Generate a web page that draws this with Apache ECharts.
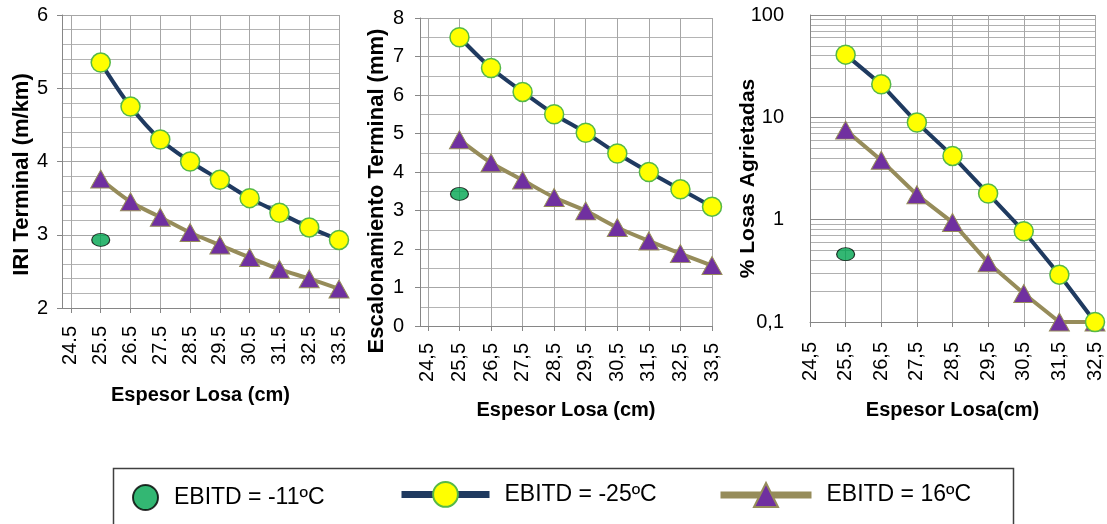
<!DOCTYPE html>
<html>
<head>
<meta charset="UTF-8">
<title>Espesor de losa - IRI, escalonamiento y losas agrietadas</title>
<script src="https://cdn.jsdelivr.net/npm/echarts@6/dist/echarts.min.js"></script>
<style>
  html, body { margin: 0; padding: 0; background: #fff; }
  #main { width: 1107px; height: 524px; }
</style>
</head>
<body>
<div id="main"></div>
<script type="text/javascript">
// espesores de losa (cm)
var espesorA = [25.5, 26.5, 27.5, 28.5, 29.5, 30.5, 31.5, 32.5, 33.5];
var espesorB = [25.5, 26.5, 27.5, 28.5, 29.5, 30.5, 31.5, 32.5];
var espesorPunto = [25.5];
var etiquetasA = [24.5, 25.5, 26.5, 27.5, 28.5, 29.5, 30.5, 31.5, 32.5, 33.5];
var etiquetasB = [24.5, 25.5, 26.5, 27.5, 28.5, 29.5, 30.5, 31.5, 32.5];

// IRI terminal (m/km)
var iriMenos25 = [5.35, 4.75, 4.3, 4.0, 3.75, 3.5, 3.3, 3.1, 2.93];
var iri16 = [3.76, 3.45, 3.24, 3.03, 2.86, 2.69, 2.53, 2.4, 2.26];
var iriMenos11 = [2.93];

// escalonamiento terminal (mm)
var escMenos25 = [7.5, 6.7, 6.08, 5.5, 5.02, 4.48, 4.0, 3.55, 3.1];
var esc16 = [4.84, 4.24, 3.79, 3.34, 2.99, 2.56, 2.21, 1.88, 1.57];
var escMenos11 = [3.43];

// % losas agrietadas (escala log)
var losasMenos25 = [41, 21, 8.9, 4.2, 1.8, 0.77, 0.29, 0.1];
var losas16 = [7.5, 3.8, 1.75, 0.94, 0.38, 0.19, 0.1, 0.1];
var losasMenos11 = [0.46];
var ticksLog = [0.1, 0.2, 0.3, 0.4, 0.5, 0.6, 0.7, 0.8, 0.9,
                1, 2, 3, 4, 5, 6, 7, 8, 9,
                10, 20, 30, 40, 50, 60, 70, 80, 90, 100];
var etiquetasLog = [0.1, 1, 10, 100];

var nombres = ['EBITD = -11ºC', 'EBITD = -25ºC', 'EBITD = 16ºC'];

var fuente = "'Liberation Sans', Arial, sans-serif";
var azul = '#1F3A60';
var oliva = '#968C5A';
var morado = '#7030A0';
var amarillo = '#FFFF00';
var bordeAmarillo = '#56B947';
var verde = '#00A550';
var rejilla = '#A6A6A6';

function pares(xs, ys) {
	return ys.map(function(v, i) {
		return [xs[i], v];
	});
}

function coma(v) {
	return String(v).replace('.', ',');
}

function ejeX(idx, min, max, ticks, gap, margen, nombre, fmt) {
	return {
		type: 'value',
		gridIndex: idx,
		min: min,
		max: max,
		name: nombre,
		nameLocation: 'middle',
		nameGap: gap,
		nameTextStyle: { fontFamily: fuente, fontSize: 20, fontWeight: 'bold', color: '#000' },
		axisLine: { show: true, onZero: false, lineStyle: { color: '#868686', width: 1 } },
		axisTick: { show: true, customValues: ticks, length: 5, lineStyle: { color: '#868686' } },
		axisLabel: { customValues: ticks, rotate: 90, margin: margen, fontFamily: fuente, fontSize: 20, color: '#000', formatter: fmt },
		splitLine: { show: true, lineStyle: { color: rejilla, width: 1 } }
	};
}

function ejeY(idx, min, max, nombre, gap, pad, margen, menores) {
	return {
		type: 'value',
		gridIndex: idx,
		min: min,
		max: max,
		interval: 1,
		name: nombre,
		nameLocation: 'middle',
		nameGap: gap,
		nameMoveOverlap: false,
		nameTextStyle: { fontFamily: fuente, fontSize: 22, fontWeight: 'bold', color: '#000', padding: pad },
		axisLine: { show: true, onZero: false, lineStyle: { color: '#868686', width: 1 } },
		axisTick: { show: true, length: 5, lineStyle: { color: '#868686' } },
		axisLabel: { margin: margen, fontFamily: fuente, fontSize: 20, color: '#000' },
		splitLine: { show: true, lineStyle: { color: rejilla, width: 1 } },
		minorTick: { show: false, splitNumber: menores },
		minorSplitLine: { show: true, lineStyle: { color: '#B4B4B4', width: 1 } }
	};
}

function serieVerde(idx, ys) {
	return {
		name: nombres[0],
		type: 'scatter',
		xAxisIndex: idx,
		yAxisIndex: idx,
		data: pares(espesorPunto, ys),
		symbol: 'circle',
		symbolSize: [18, 13],
		itemStyle: { color: verde, borderColor: '#000', borderWidth: 1 }
	};
}

function serie16(idx, xs, ys, suave) {
	return {
		name: nombres[2],
		type: 'line',
		xAxisIndex: idx,
		yAxisIndex: idx,
		data: pares(xs, ys),
		smooth: suave,
		symbol: 'triangle',
		symbolSize: [20, 18],
		lineStyle: { color: oliva, width: 4 },
		itemStyle: { color: morado, borderColor: oliva, borderWidth: 1 }
	};
}

function serie25(idx, xs, ys, suave) {
	return {
		name: nombres[1],
		type: 'line',
		xAxisIndex: idx,
		yAxisIndex: idx,
		data: pares(xs, ys),
		smooth: suave,
		symbol: 'circle',
		symbolSize: 19,
		lineStyle: { color: azul, width: 4 },
		itemStyle: { color: amarillo, borderColor: bordeAmarillo, borderWidth: 1.5 }
	};
}

var myChart = echarts.init(document.getElementById('main'), null, { renderer: 'canvas' });

var textoLeyenda = { fontFamily: fuente, fontSize: 23, color: '#000' };

// lineas de decada mas oscuras en el eje logaritmico
var coloresLog = ['#8C8C8C', '#B0B0B0', '#B0B0B0', '#B0B0B0', '#B0B0B0', '#B0B0B0', '#B0B0B0', '#B0B0B0', '#B0B0B0'];

var option = {
	animation: false,
	textStyle: { fontFamily: fuente },
	grid: [
		{ left: 62, top: 15, width: 277, height: 293 },
		{ left: 420, top: 18, width: 292, height: 308 },
		{ left: 810, top: 15, width: 285, height: 307 }
	],
	xAxis: [
		ejeX(0, 24.2, 33.5, etiquetasA, 77, 18, 'Espesor Losa (cm)', function(v) { return v.toFixed(1); }),
		ejeX(1, 24.25, 33.5, etiquetasA, 74, 17, 'Espesor Losa (cm)', coma),
		ejeX(2, 24.5, 32.5, etiquetasB, 78, 20, 'Espesor Losa(cm)', coma)
	],
	yAxis: [
		ejeY(0, 2, 6, 'IRI Terminal (m/km)', 29, [0, 26, 0, 0], 14, 5),
		ejeY(1, 0, 8, 'Escalonamiento Terminal (mm)', 32, [0, 38, 0, 0], 16, 2),
		{
			type: 'log',
			logBase: 10,
			gridIndex: 2,
			min: 0.1,
			max: 100,
			name: '% Losas Agrietadas',
			nameLocation: 'middle',
			nameGap: 51,
			nameMoveOverlap: false,
			nameTextStyle: { fontFamily: fuente, fontSize: 21, fontWeight: 'bold', color: '#000', padding: [0, 20, 0, 0] },
			axisLine: { show: true, onZero: false, lineStyle: { color: '#868686', width: 1 } },
			axisTick: { show: false, customValues: ticksLog },
			axisLabel: { customValues: etiquetasLog, margin: 26, fontFamily: fuente, fontSize: 20, color: '#000', formatter: coma },
			splitLine: { show: true, lineStyle: { color: coloresLog, width: 1 } }
		}
	],
	legend: [
		{
			data: [nombres[0]], left: 132, top: 484, padding: 0,
			itemWidth: 25, itemHeight: 25,
			textStyle: Object.assign({ padding: [0, 0, 0, 11] }, textoLeyenda)
		},
		{
			data: [nombres[1]], left: 398, top: 481, padding: 0,
			itemWidth: 88, itemHeight: 31,
			lineStyle: { width: 7 },
			textStyle: Object.assign({ padding: [0, 0, 0, 10] }, textoLeyenda)
		},
		{
			data: [nombres[2]], left: 717, top: 482, padding: 0,
			itemWidth: 91, itemHeight: 30,
			lineStyle: { width: 7 },
			textStyle: Object.assign({ padding: [0, 0, 0, 10] }, textoLeyenda)
		}
	],
	// marco de la leyenda
	graphic: [{
		type: 'rect',
		left: 111,
		top: 466,
		shape: { width: 900, height: 80 },
		style: { fill: 'none', stroke: '#404040', lineWidth: 1.5 },
		silent: true
	}],
	series: [
		serieVerde(0, iriMenos11),
		serie16(0, espesorA, iri16, 0.35),
		serie25(0, espesorA, iriMenos25, 0.35),
		serieVerde(1, escMenos11),
		serie16(1, espesorA, esc16, 0.3),
		serie25(1, espesorA, escMenos25, 0.3),
		serieVerde(2, losasMenos11),
		serie16(2, espesorB, losas16, false),
		serie25(2, espesorB, losasMenos25, false)
	]
};

myChart.setOption(option);
</script>
</body>
</html>
